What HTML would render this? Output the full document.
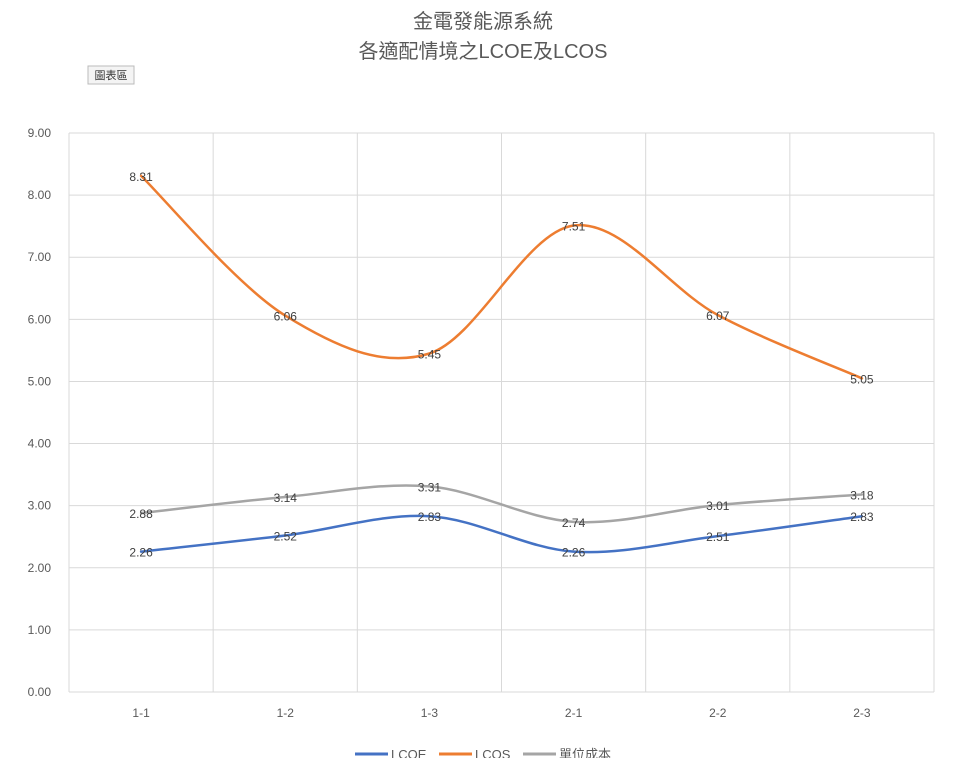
<!DOCTYPE html>
<html><head><meta charset="utf-8"><style>
body{margin:0;background:#fff;width:967px;height:758px;overflow:hidden;font-family:"Liberation Sans","Noto Sans CJK TC",sans-serif}
svg text{font-family:"Liberation Sans","Noto Sans CJK TC",sans-serif}
</style></head><body>
<svg id="c" width="967" height="758" xmlns="http://www.w3.org/2000/svg">
<text x="483" y="28" text-anchor="middle" font-size="20" fill="#595959">金電發能源系統</text>
<text x="483" y="58" text-anchor="middle" font-size="20" fill="#595959">各適配情境之LCOE及LCOS</text>
<g>
<rect x="88" y="66" width="46" height="18" fill="#f4f4f4" stroke="#bbb"/>
<text x="111" y="79" text-anchor="middle" font-size="11" fill="#333">圖表區</text>
</g>
<g id="grid"></g><g id="series"></g><g id="labels"></g>
<g>
<line x1="355" y1="754" x2="388" y2="754" stroke="#4472C4" stroke-width="3"/><text x="391" y="759" font-size="13" fill="#595959">LCOE</text>
<line x1="439" y1="754" x2="472" y2="754" stroke="#ED7D31" stroke-width="3"/><text x="475" y="759" font-size="13" fill="#595959">LCOS</text>
<line x1="523" y1="754" x2="556" y2="754" stroke="#A5A5A5" stroke-width="3"/><text x="559" y="759" font-size="13" fill="#595959">單位成本</text>
</g>
</svg>
<script>
const categories=["1-1","1-2","1-3","2-1","2-2","2-3"];
const lcoe=[2.26,2.52,2.83,2.26,2.51,2.83];
const lcos=[8.31,6.06,5.45,7.51,6.07,5.05];
const unitCost=[2.88,3.14,3.31,2.74,3.01,3.18];
const yTicks=[0,1,2,3,4,5,6,7,8,9];
const NS="http://www.w3.org/2000/svg";
const L=69,R=934,T=133,B=692,yMax=9;
const bw=(R-L)/categories.length;
const X=i=>L+bw*(i+0.5);
const Y=v=>B-(v/yMax)*(B-T);
function mk(t,a,p){const e=document.createElementNS(NS,t);for(const k in a)e.setAttribute(k,a[k]);p.appendChild(e);return e;}
const g=document.getElementById('grid');
yTicks.forEach(v=>{
  const l=mk('line',{x1:L,x2:R,y1:Y(v),y2:Y(v),stroke:'#d9d9d9'},g);
  
  
  const t=mk('text',{x:L-18,y:Y(v)+4,'text-anchor':'end','font-size':12,fill:'#595959'},g);
  t.textContent=v.toFixed(2);
  
  
});
for(let i=0;i<=categories.length;i++){
  const l=mk('line',{x1:L+bw*i,x2:L+bw*i,y1:T,y2:B,stroke:'#d9d9d9'},g);
  
  
}
categories.forEach((c,i)=>{
  const t=mk('text',{x:X(i),y:B+25,'text-anchor':'middle','font-size':12,fill:'#595959'},g);
  t.textContent=c;
  
  
});
function path(vals){
  const p=vals.map((v,i)=>[X(i),Y(v)]);
  let d=`M${p[0][0]},${p[0][1]}`;
  for(let i=0;i<p.length-1;i++){
    const p0=p[i-1]||p[i],p1=p[i],p2=p[i+1],p3=p[i+2]||p[i+1];
    const c1=[p1[0]+(p2[0]-p0[0])/6,p1[1]+(p2[1]-p0[1])/6];
    const c2=[p2[0]-(p3[0]-p1[0])/6,p2[1]-(p3[1]-p1[1])/6];
    d+=` C${c1[0]},${c1[1]} ${c2[0]},${c2[1]} ${p2[0]},${p2[1]}`;
  }
  return d;
}
const s=document.getElementById('series'),lb=document.getElementById('labels');
[[unitCost,'#A5A5A5','unit-cost'],[lcoe,'#4472C4','lcoe'],[lcos,'#ED7D31','lcos']].forEach(([vals,col,n])=>{
  const p=mk('path',{d:path(vals),fill:'none',stroke:col,'stroke-width':2.5,'stroke-linecap':'round'},s);
  
  
  vals.forEach((v,i)=>{
    const t=mk('text',{x:X(i),y:Y(v)+5,'text-anchor':'middle','font-size':12,fill:'#404040'},lb);
    t.textContent=v.toFixed(2);
    
    
  });
});
</script>
</body></html>
